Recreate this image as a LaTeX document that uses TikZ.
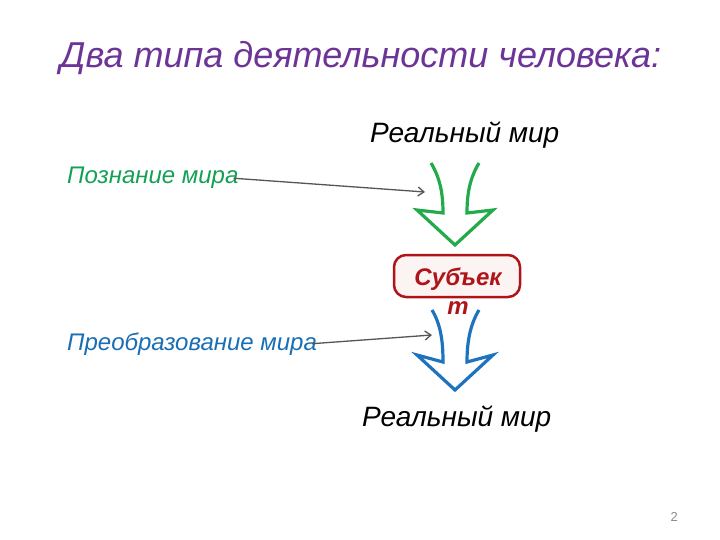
\documentclass[tikz,border=0pt]{standalone}
\usepackage{fontspec}
\setmainfont{Liberation Sans}
\usetikzlibrary{arrows.meta}

\definecolor{titlepurple}{RGB}{108,52,150}
\definecolor{knowgreen}{RGB}{20,160,85}
\definecolor{arrowgreen}{RGB}{35,170,75}
\definecolor{changeblue}{RGB}{25,110,180}
\definecolor{arrowblue}{RGB}{30,115,190}
\definecolor{subjred}{RGB}{175,20,25}
\definecolor{subjfill}{RGB}{252,244,242}
\definecolor{pointer}{RGB}{85,85,85}
\definecolor{pagegray}{RGB}{140,140,140}

\tikzset{
  worldlabel/.style={anchor=base west, inner sep=0pt, font=\fontsize{28}{32}\selectfont\itshape},
  actlabel/.style={anchor=base west, inner sep=0pt, font=\fontsize{24}{28}\selectfont\itshape},
  pointerline/.style={draw=pointer, line width=1.3pt, -{Straight Barb[length=6pt,width=9pt]}},
  bigarrow/.style={line width=3.2pt, line join=miter, line cap=butt}
}

\begin{document}
\begin{tikzpicture}[x=1pt, y=-1pt]
	\useasboundingbox (0,0) rectangle (720,540);

	% title
	\node[anchor=base west, inner sep=0pt, text=titlepurple,
	      font=\fontsize{36}{40}\selectfont\itshape] (title) at (60,68) {Два типа деятельности человека:};

	% worlds
	\node[worldlabel] (worldtop) at (370,143) {Реальный мир};
	\node[worldlabel] (worldbot) at (362,426) {Реальный мир};

	% subject
	\node[draw=subjred, fill=subjfill, line width=2.5pt, rounded corners=12pt,
	      minimum width=126pt, minimum height=42pt] (subj) at (457,276) {};
	\node[text=subjred, align=center, font=\fontsize{24}{29}\selectfont\bfseries\itshape]
	      (subjtext) at (458,291) {Субъек\\т};

	% big arrows
	\draw[bigarrow, draw=arrowgreen, shift={(455,163)}]
	      (-24,0) .. controls (-15,15) and (-12,30) .. (-12,50) -- (-38,47) -- (0,82)
	      -- (38,47) -- (12,50) .. controls (12,30) and (15,15) .. (24,0);
	\draw[bigarrow, draw=arrowblue, shift={(455,310)}]
	      (-23,0) .. controls (-14,15) and (-12,32) .. (-12,52) -- (-38,45) -- (0,80)
	      -- (38,45) -- (12,52) .. controls (12,32) and (15,15) .. (24,0);

	% activities
	\node[actlabel, text=knowgreen] (know) at (67,184) {Познание мира};
	\node[actlabel, text=changeblue] (change) at (67,350) {Преобразование мира};
	\coordinate (knowend) at (425,192);
	\coordinate (changeend) at (432,335);
	\draw[pointerline] ([xshift=-5pt]know.east) -- (knowend);
	\draw[pointerline] ([xshift=-5pt]change.east) -- (changeend);

	% page number
	\node[anchor=base east, inner sep=0pt, text=pagegray, font=\fontsize{13}{15}\selectfont] (page) at (678,521) {2};

\end{tikzpicture}
\end{document}
